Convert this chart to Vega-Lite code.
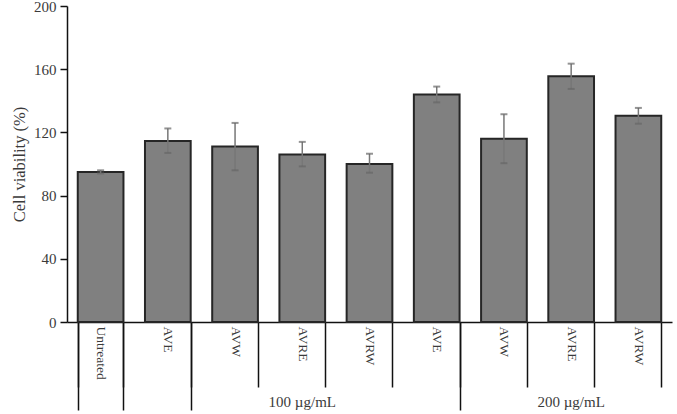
{
  "$schema": "https://vega.github.io/schema/vega-lite/v6.json",
  "width": 605,
  "height": 316,
  "autosize": {"type": "none"},
  "padding": {"left": 67, "top": 6, "right": 5, "bottom": 92},
  "background": "white",
  "config": {
    "view": {"stroke": null},
    "axis": {"labelFont": "Liberation Serif", "titleFont": "Liberation Serif"}
  },
  "data": {
    "values": [
      {"key": "Untreated", "group": "", "value": 95, "lo": 94, "hi": 96},
      {"key": "AVE 100", "group": "100 µg/mL", "value": 114.6, "lo": 107, "hi": 122.5},
      {"key": "AVW 100", "group": "100 µg/mL", "value": 111, "lo": 96, "hi": 126},
      {"key": "AVRE 100", "group": "100 µg/mL", "value": 106, "lo": 98.5, "hi": 114},
      {"key": "AVRW 100", "group": "100 µg/mL", "value": 100, "lo": 94.5, "hi": 106.5},
      {"key": "AVE 200", "group": "200 µg/mL", "value": 144, "lo": 139, "hi": 149},
      {"key": "AVW 200", "group": "200 µg/mL", "value": 116, "lo": 100.5, "hi": 131.5},
      {"key": "AVRE 200", "group": "200 µg/mL", "value": 155.5, "lo": 147.5, "hi": 163.5},
      {"key": "AVRW 200", "group": "200 µg/mL", "value": 130.5, "lo": 125.5, "hi": 135.5}
    ]
  },
  "resolve": {"axis": {"x": "independent"}},
  "layer": [
    {
      "mark": {"type": "bar", "fill": "#808080", "stroke": "#262626", "strokeWidth": 2},
      "encoding": {
        "x": {
          "field": "key", "type": "nominal", "sort": null,
          "scale": {"paddingInner": 0.32, "paddingOuter": 0.16},
          "axis": {
            "orient": "bottom", "title": null, "tickBand": "extent", "tickSize": 65,
            "tickColor": "#111", "tickWidth": 1.5, "domainColor": "#111", "domainWidth": 1.5,
            "labelAngle": 90, "labelPadding": -61, "labelFontSize": 13.5, "labelColor": "#3a3a3a",
            "labelExpr": "split(datum.label, ' ')[0]"
          }
        },
        "y": {
          "field": "value", "type": "quantitative",
          "scale": {"domain": [0, 200]},
          "axis": {
            "title": "Cell viability (%)", "values": [0, 40, 80, 120, 160, 200], "grid": false,
            "tickSize": 7, "tickColor": "#111", "tickWidth": 1.5, "domainColor": "#111", "domainWidth": 1.5,
            "labelFontSize": 15, "labelColor": "#3a3a3a", "labelPadding": 4,
            "titleFontSize": 16.5, "titleFontWeight": "normal", "titleColor": "#3a3a3a", "titlePadding": 6
          }
        }
      }
    },
    {
      "mark": {"type": "rule", "color": "#777", "strokeWidth": 1.5},
      "encoding": {
        "x": {
          "field": "key", "type": "nominal", "sort": null,
          "axis": {
            "orient": "bottom", "title": null, "tickBand": "extent", "tickSize": 88,
            "values": ["Untreated", "AVE 100", "AVE 200"],
            "tickColor": "#111", "tickWidth": 1.5, "domain": false, "labels": false
          }
        },
        "y": {"field": "lo", "type": "quantitative", "title": "Cell viability (%)"},
        "y2": {"field": "hi"}
      }
    },
    {
      "mark": {"type": "tick", "color": "#666", "size": 7, "thickness": 2},
      "encoding": {
        "x": {
          "field": "key", "type": "nominal", "sort": null,
          "axis": {
            "orient": "bottom", "title": null, "bandPosition": 0, "ticks": false, "domain": false,
            "values": ["AVRE 100", "AVRE 200"],
            "labelAngle": 0, "labelAlign": "center", "labelBaseline": "top",
            "labelPadding": 72, "labelFontSize": 15, "labelColor": "#3a3a3a",
            "labelExpr": "datum.label == 'AVRE 100' ? '100 µg/mL' : '200 µg/mL'"
          }
        },
        "y": {"field": "hi", "type": "quantitative", "title": "Cell viability (%)"}
      }
    },
    {
      "mark": {"type": "tick", "color": "#666", "size": 7, "thickness": 2},
      "encoding": {
        "x": {"field": "key", "type": "nominal", "sort": null, "axis": null},
        "y": {"field": "lo", "type": "quantitative", "title": "Cell viability (%)"}
      }
    }
  ]
}
